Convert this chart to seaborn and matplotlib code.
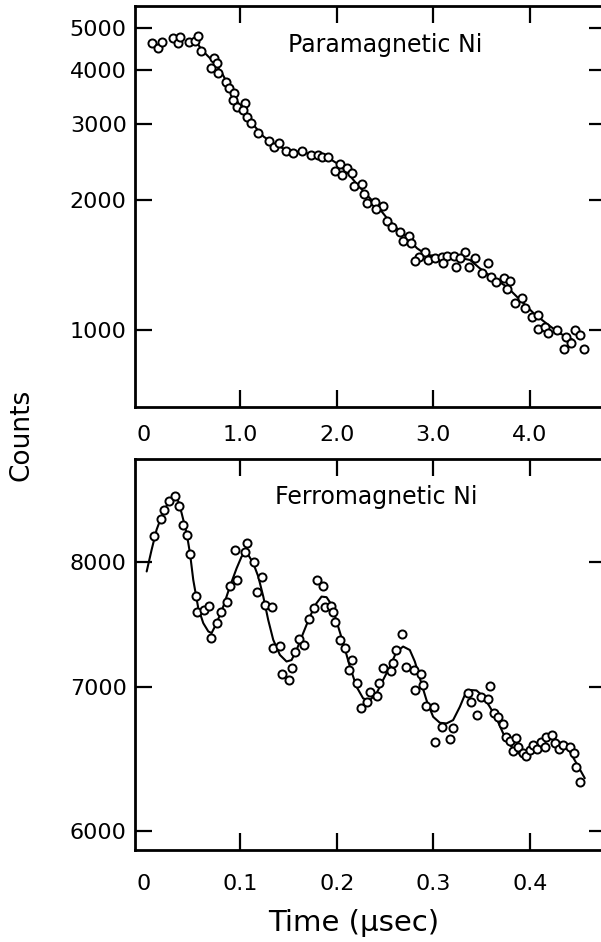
import matplotlib
matplotlib.use("Agg")
import matplotlib.pyplot as plt
from matplotlib.ticker import FixedLocator, FixedFormatter, NullLocator
import seaborn as sns

# ---------------- Paramagnetic Ni (time in microseconds) ----------------
para_time = [0.08, 0.15, 0.19, 0.30, 0.35, 0.37, 0.47, 0.53, 0.56, 0.59,
             0.73, 0.76, 0.70, 0.77, 0.85, 0.88, 0.93, 0.92, 0.96, 1.05,
             1.03, 1.07, 1.11, 1.18, 1.30, 1.35, 1.40, 1.47, 1.55, 1.64,
             1.73, 1.80, 1.85, 1.91, 2.03, 1.98, 2.10, 2.05, 2.16, 2.18,
             2.26, 2.28, 2.31, 2.39, 2.48, 2.41, 2.52, 2.57, 2.65, 2.75,
             2.69, 2.77, 2.91, 2.85, 2.81, 2.94, 3.02, 3.09, 3.14, 3.10,
             3.21, 3.23, 3.33, 3.28, 3.37, 3.43, 3.50, 3.57, 3.60, 3.65,
             3.73, 3.79, 3.76, 3.85, 3.92, 3.95, 4.02, 4.08, 4.09, 4.16,
             4.19, 4.28, 4.35, 4.38, 4.43, 4.47, 4.52, 4.56]
para_counts = [4625, 4487, 4650, 4734, 4609, 4775, 4650, 4676, 4800, 4432,
               4255, 4157, 4034, 3942, 3757, 3639, 3543, 3407, 3277, 3348,
               3231, 3107, 3009, 2853, 2744, 2658, 2715, 2601, 2574, 2597,
               2542, 2537, 2519, 2510, 2423, 2338, 2367, 2285, 2306, 2159,
               2178, 2065, 1972, 1982, 1940, 1902, 1788, 1735, 1689, 1654,
               1605, 1593, 1513, 1479, 1447, 1452, 1471, 1473, 1484, 1427,
               1484, 1402, 1518, 1465, 1402, 1468, 1353, 1432, 1329, 1290,
               1317, 1298, 1242, 1153, 1184, 1122, 1074, 1083, 1004, 1018,
               982, 997, 902, 965, 931, 997, 974, 902]
para_fit_time = [0.53, 0.60, 0.72, 0.81, 0.89, 0.98, 1.06, 1.15, 1.24, 1.34,
                 1.44, 1.58, 1.76, 1.89, 2.00, 2.10, 2.20, 2.31, 2.41, 2.52,
                 2.62, 2.72, 2.83, 2.93, 3.07, 3.24, 3.38, 3.48, 3.62, 3.76,
                 3.90, 4.04, 4.17, 4.31, 4.45]
para_fit_counts = [4691, 4448, 4179, 3928, 3626, 3348, 3146, 2956, 2803, 2705,
                   2633, 2587, 2551, 2519, 2431, 2326, 2185, 2054, 1947, 1814,
                   1720, 1645, 1546, 1492, 1479, 1473, 1452, 1390, 1317, 1260,
                   1173, 1093, 1036, 982, 948]
para_xticks = [0, 1, 2, 3, 4]
para_xlabels = ["0", "1.0", "2.0", "3.0", "4.0"]
para_yticks = [1000, 2000, 3000, 4000, 5000]

# ---------------- Ferromagnetic Ni (time in microseconds) ----------------
ferro_time = [0.0104, 0.0173, 0.0207, 0.0263, 0.0321, 0.0366, 0.0401, 0.0442, 0.0477, 0.0539,
              0.0553, 0.0622, 0.0677, 0.0691, 0.0760, 0.0794, 0.0857, 0.0891, 0.0967, 0.0943,
              0.1047, 0.1071, 0.1140, 0.1219, 0.1168, 0.1254, 0.1323, 0.1333, 0.1409, 0.1427,
              0.1506, 0.1530, 0.1565, 0.1610, 0.1658, 0.1713, 0.1762, 0.1789, 0.1858, 0.1876,
              0.1934, 0.1955, 0.1979, 0.2031, 0.2083, 0.2152, 0.2128, 0.2204, 0.2245, 0.2314,
              0.2342, 0.2418, 0.2439, 0.2480, 0.2556, 0.2584, 0.2618, 0.2680, 0.2715, 0.2798,
              0.2877, 0.2808, 0.2895, 0.2922, 0.3005, 0.3085, 0.3016, 0.3171, 0.3205, 0.3361,
              0.3395, 0.3454, 0.3489, 0.3568, 0.3592, 0.3627, 0.3672, 0.3717, 0.3758, 0.3793,
              0.3827, 0.3855, 0.3879, 0.3931, 0.3965, 0.4000, 0.4035, 0.4076, 0.4121, 0.4155,
              0.4173, 0.4235, 0.4259, 0.4304, 0.4345, 0.4415, 0.4456, 0.4484, 0.4525]
ferro_counts = [8228, 8376, 8460, 8536, 8581, 8496, 8325, 8237, 8069, 7715,
                7579, 7601, 7628, 7374, 7493, 7579, 7661, 7798, 7843, 8104,
                8089, 8162, 8002, 7876, 7751, 7642, 7620, 7295, 7314, 7095,
                7053, 7141, 7267, 7366, 7322, 7524, 7614, 7848, 7793, 7622,
                7633, 7587, 7506, 7361, 7295, 7203, 7126, 7025, 6840, 6889,
                6963, 6931, 7025, 7141, 7121, 7177, 7281, 7405, 7152, 7126,
                7098, 6973, 7015, 6857, 6852, 6707, 6601, 6617, 6695, 6951,
                6889, 6791, 6922, 6907, 7007, 6803, 6774, 6726, 6631, 6608,
                6538, 6624, 6566, 6524, 6501, 6543, 6578, 6547, 6601, 6566,
                6636, 6648, 6590, 6547, 6578, 6566, 6524, 6427, 6325]
ferro_fit_time = [0.0028, 0.0079, 0.0131, 0.0183, 0.0235, 0.0287, 0.0321, 0.0356, 0.0390, 0.0442,
                  0.0477, 0.0511, 0.0563, 0.0615, 0.0667, 0.0701, 0.0753, 0.0822, 0.0891, 0.0960,
                  0.1012, 0.1047, 0.1081, 0.1133, 0.1185, 0.1237, 0.1288, 0.1340, 0.1409, 0.1478,
                  0.1530, 0.1582, 0.1651, 0.1720, 0.1789, 0.1841, 0.1893, 0.1945, 0.1997, 0.2066,
                  0.2135, 0.2204, 0.2273, 0.2342, 0.2411, 0.2480, 0.2549, 0.2618, 0.2687, 0.2756,
                  0.2808, 0.2860, 0.2929, 0.2998, 0.3067, 0.3136, 0.3205, 0.3275, 0.3326, 0.3378,
                  0.3447, 0.3516, 0.3585, 0.3655, 0.3724, 0.3793, 0.3862, 0.3931, 0.4000, 0.4069,
                  0.4138, 0.4207, 0.4276, 0.4345, 0.4415, 0.4484, 0.4570]
ferro_fit_counts = [7919, 8104, 8281, 8400, 8496, 8556, 8575, 8536, 8430, 8252,
                    8075, 7848, 7614, 7493, 7427, 7414, 7493, 7628, 7793, 7945,
                    8046, 8075, 8061, 7989, 7876, 7709, 7519, 7361, 7243, 7192,
                    7203, 7281, 7414, 7546, 7655, 7709, 7704, 7642, 7506, 7335,
                    7152, 7000, 6913, 6901, 6951, 7053, 7152, 7267, 7308, 7281,
                    7192, 7065, 6901, 6779, 6736, 6731, 6755, 6852, 6939, 6976,
                    6973, 6929, 6852, 6767, 6660, 6578, 6531, 6496, 6519, 6566,
                    6613, 6636, 6613, 6578, 6531, 6450, 6348]
ferro_xticks = [0, 0.1, 0.2, 0.3, 0.4]
ferro_xlabels = ["0", "0.1", "0.2", "0.3", "0.4"]
ferro_yticks = [6000, 7000, 8000]

sns.set_style("ticks")
plt.rcParams["font.family"] = ["DejaVu Sans"]
plt.rcParams.update({
    "text.color": "black",
    "axes.labelcolor": "black",
    "xtick.color": "black",
    "ytick.color": "black",
    "axes.edgecolor": "black",
})

W, H = 601, 942
fig = plt.figure(figsize=(W / 100, H / 100), dpi=100)


def frac_box(left, top, right, bottom):
    return [left / W, 1 - bottom / H, (right - left) / W, (bottom - top) / H]


ax_para = fig.add_axes(frac_box(135, 6, 606, 407))
ax_ferro = fig.add_axes(frac_box(135, 459, 606, 850))


def draw_panel(ax, t, c, ft, fc):
    sns.lineplot(x=ft, y=fc, ax=ax, color="black", linewidth=1.5,
                 sort=False, estimator=None, zorder=2)
    sns.scatterplot(x=t, y=c, ax=ax, marker="o", s=34, color="white",
                    edgecolor="black", linewidth=1.4, zorder=3)


def style_panel(ax, xlim, ylim, xticks, xlabels, yticks, xpad):
    ax.set_yscale("log")
    ax.set_xlim(*xlim)
    ax.set_ylim(*ylim)
    ax.yaxis.set_major_locator(FixedLocator(yticks))
    ax.yaxis.set_major_formatter(FixedFormatter([str(v) for v in yticks]))
    ax.yaxis.set_minor_locator(NullLocator())
    ax.set_xticks(xticks, xlabels)
    ax.xaxis.set_minor_locator(NullLocator())
    ax.tick_params(axis="both", direction="in", length=12, width=1.6,
                   top=True, right=True, labelsize=16,
                   color="black", labelcolor="black")
    ax.tick_params(axis="y", pad=6)
    ax.tick_params(axis="x", pad=xpad)
    ticks = ax.xaxis.get_major_ticks()
    ticks[0].tick1line.set_visible(False)
    ticks[0].tick2line.set_visible(False)
    for sp in ax.spines.values():
        sp.set_linewidth(2.0)
        sp.set_color("black")
    ax.spines["right"].set_visible(False)
    ax.set_xlabel("")
    ax.set_ylabel("")


draw_panel(ax_para, para_time, para_counts, para_fit_time, para_fit_counts)
style_panel(ax_para, (-0.093, 4.79), (663, 5623),
            para_xticks, para_xlabels, para_yticks, xpad=13)

draw_panel(ax_ferro, ferro_time, ferro_counts, ferro_fit_time, ferro_fit_counts)
style_panel(ax_ferro, (-0.0093, 0.479), (5879, 8931),
            ferro_xticks, ferro_xlabels, ferro_yticks, xpad=17)

fig.text(385 / W, 1 - 45 / H, "Paramagnetic Ni", fontsize=17,
         ha="center", va="center", color="black")
fig.text(376 / W, 1 - 497 / H, "Ferromagnetic Ni", fontsize=17,
         ha="center", va="center", color="black")
fig.text(22 / W, 1 - 435 / H, "Counts", fontsize=19, rotation=90,
         ha="center", va="center", color="black")
fig.text(354 / W, 1 - 923 / H, "Time (\u03bcsec)", fontsize=21,
         ha="center", va="center", color="black")

fig.savefig("out.png", dpi=100, facecolor="white")
